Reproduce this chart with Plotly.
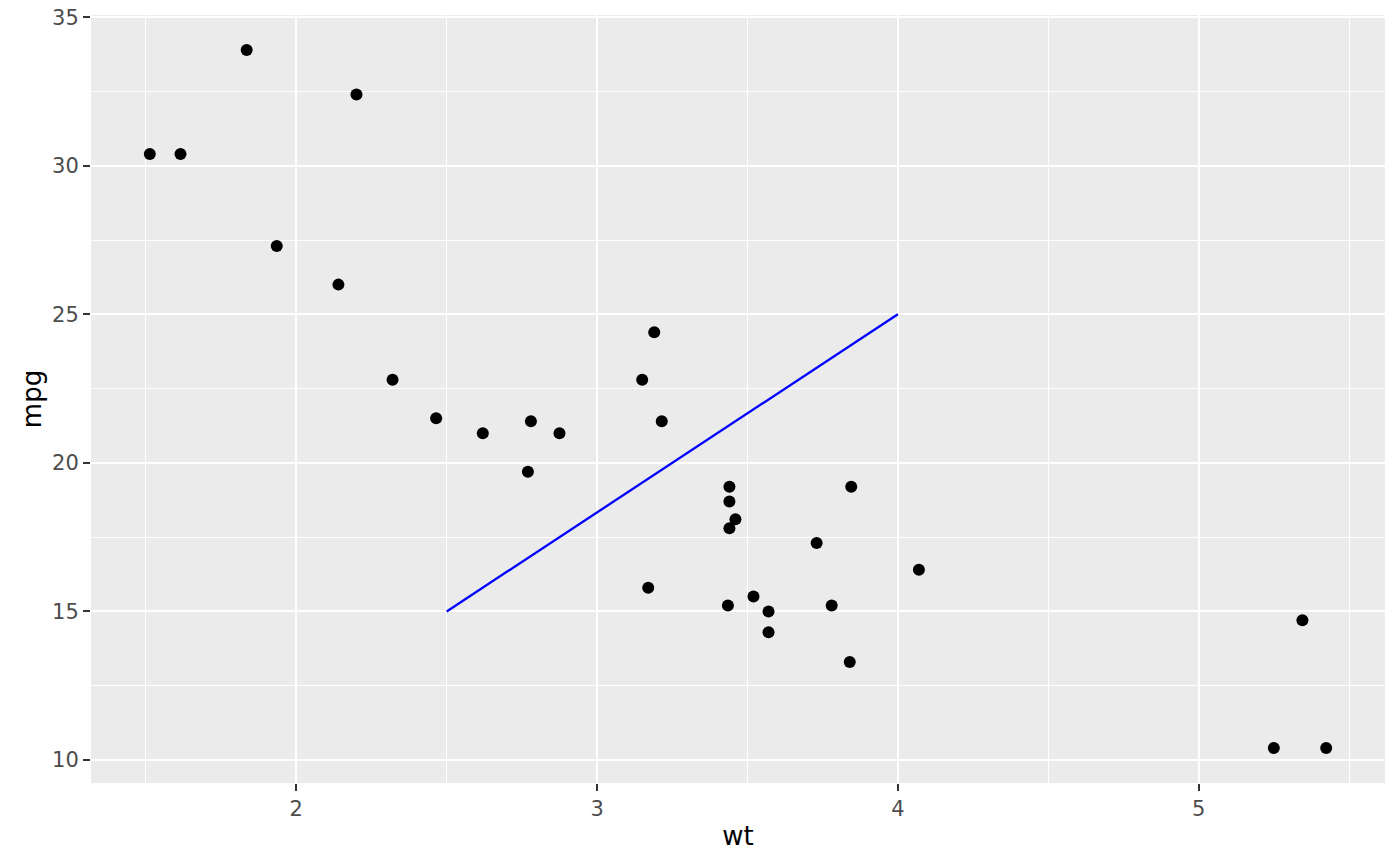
import plotly.graph_objects as go

wt = [2.620, 2.875, 2.320, 3.215, 3.440, 3.460, 3.570, 3.190, 3.150, 3.440, 3.440,
      4.070, 3.730, 3.780, 5.250, 5.424, 5.345, 2.200, 1.615, 1.835, 2.465, 3.520,
      3.435, 3.840, 3.845, 1.935, 2.140, 1.513, 3.170, 2.770, 3.570, 2.780]
mpg = [21.0, 21.0, 22.8, 21.4, 18.7, 18.1, 14.3, 24.4, 22.8, 19.2, 17.8,
       16.4, 17.3, 15.2, 10.4, 10.4, 14.7, 32.4, 30.4, 33.9, 21.5, 15.5,
       15.2, 13.3, 19.2, 27.3, 26.0, 30.4, 15.8, 19.7, 15.0, 21.4]
seg_x = [2.5, 4.0]
seg_y = [15, 25]
x_ticks = [2, 3, 4, 5]
y_ticks = [10, 15, 20, 25, 30, 35]

fig = go.Figure()
fig.add_trace(go.Scatter(x=wt, y=mpg, mode="markers",
                         marker=dict(color="black", size=12, line=dict(width=0)),
                         showlegend=False))
fig.add_trace(go.Scatter(x=seg_x, y=seg_y, mode="lines",
                         line=dict(color="blue", width=2.3), showlegend=False))

xr = [1.513 - 0.19555, 5.424 + 0.19555]
yr = [10.4 - 1.175, 33.9 + 1.175]
font = "DejaVu Sans"
axis_common = dict(showline=False, zeroline=False, ticks="outside", ticklen=7,
                   tickcolor="#333333", tickwidth=2, gridcolor="white", gridwidth=2,
                   ticklabeloverflow="allow", automargin=False,
                   tickfont=dict(family=font, size=21, color="#4d4d4d"),
                   title_font=dict(family=font, size=26, color="black"))
fig.update_layout(
    width=1384, height=850,
    paper_bgcolor="white", plot_bgcolor="#ebebeb",
    margin=dict(l=83, r=7, t=7, b=75),
    xaxis=dict(range=xr, tickvals=x_ticks, title=dict(text="wt", standoff=6),
               minor=dict(tickvals=[1.5, 2.5, 3.5, 4.5, 5.5], showgrid=True,
                          gridcolor="white", gridwidth=1, ticks=""),
               **axis_common),
    yaxis=dict(range=yr, tickvals=y_ticks, title=dict(text="mpg", standoff=2),
               minor=dict(tickvals=[12.5, 17.5, 22.5, 27.5, 32.5], showgrid=True,
                          gridcolor="white", gridwidth=1, ticks=""),
               **axis_common),
)
fig.write_html("out.html")
